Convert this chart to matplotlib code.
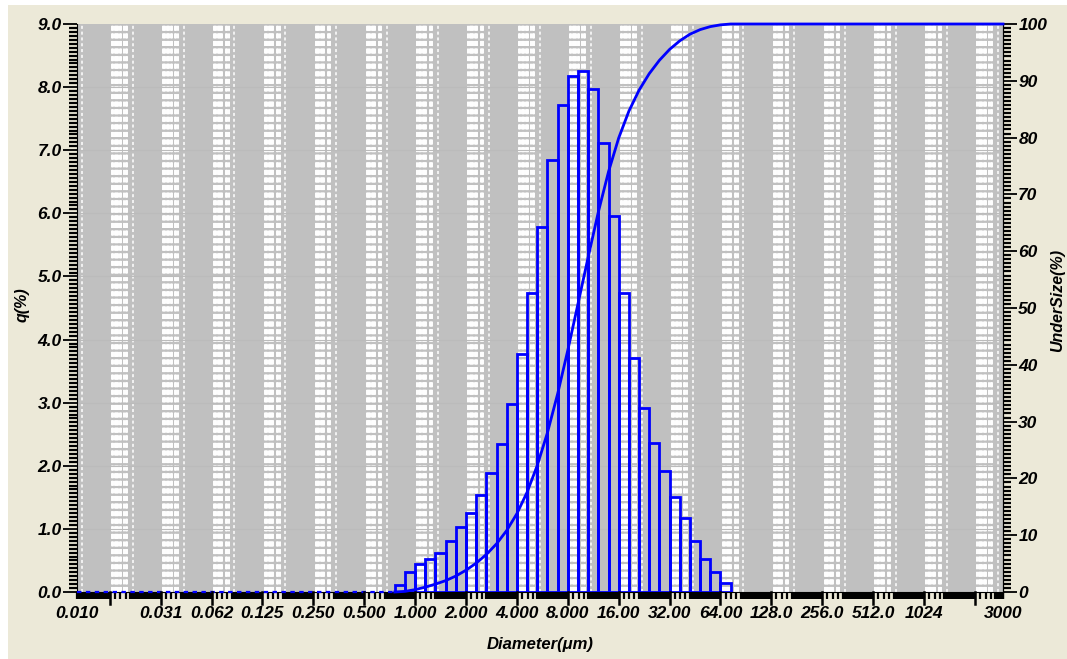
import numpy as np
import matplotlib
matplotlib.use("Agg")
import matplotlib.pyplot as plt
from matplotlib.ticker import FixedLocator, FixedFormatter, NullFormatter
from matplotlib.patches import Rectangle

# ---------------- data ----------------
# bin edges (um), 5 bins per octave
bin_edges = [0.7579, 0.8706, 1.000, 1.1487, 1.3195, 1.5157, 1.7411, 2.000,
             2.2974, 2.6390, 3.0314, 3.4822, 4.000, 4.5948, 5.2780, 6.0629,
             6.9644, 8.000, 9.1896, 10.556, 12.126, 13.929, 16.00, 18.379,
             21.112, 24.251, 27.858, 32.00, 36.758, 42.224, 48.503, 55.715,
             64.00, 73.517]
# frequency q(%) per bin
q_values = [0.11, 0.31, 0.44, 0.53, 0.62, 0.81, 1.03, 1.25, 1.53, 1.88,
            2.35, 2.98, 3.77, 4.73, 5.79, 6.84, 7.71, 8.18, 8.25, 7.97,
            7.11, 5.95, 4.73, 3.70, 2.92, 2.36, 1.92, 1.51, 1.17, 0.81,
            0.53, 0.31, 0.15]

x_tick_values = [0.01, 0.03125, 0.0625, 0.125, 0.25, 0.5, 1, 2, 4, 8, 16, 32,
                 64, 128, 256, 512, 1024, 3000]
x_tick_labels = ["0.010", "0.031", "0.062", "0.125", "0.250", "0.500",
                 "1.000", "2.000", "4.000", "8.000", "16.00", "32.00",
                 "64.00", "128.0", "256.0", "512.0", "1024", "3000"]
x_long_ticks = [2.0 ** k for k in range(-6, 12)]
y_left_labels = ["0.0", "1.0", "2.0", "3.0", "4.0", "5.0", "6.0", "7.0", "8.0", "9.0"]
y_right_labels = ["0", "10", "20", "30", "40", "50", "60", "70", "80", "90", "100"]

# cumulative undersize from the histogram
edges = np.array(bin_edges)
q = np.array(q_values)
cum = np.concatenate([[0.0], np.cumsum(q)])
cum = cum / cum[-1] * 100.0

# ---------------- style ----------------
plt.rcParams['font.family'] = ['Liberation Sans', 'DejaVu Sans']
plt.rcParams['font.weight'] = 'bold'
plt.rcParams['font.style'] = 'italic'

W, H = 1067, 659
fig = plt.figure(figsize=(W / 100, H / 100), dpi=100)
fig.patch.set_facecolor('white')
bg = Rectangle((8 / W, 0), 1 - 8 / W, (H - 5) / H,
               transform=fig.transFigure, facecolor='#ECE9D8',
               edgecolor='none', zorder=-10)
fig.patches.append(bg)

L, R, T, B = 77, 1003, 24, 592
ax = fig.add_axes([L / W, (H - B) / H, (R - L) / W, (B - T) / H])
ax.set_facecolor('#C0C0C0')
ax.set_xscale('log', base=2)
xmin, xmax = 0.01, 3000
ax.set_xlim(xmin, xmax)
ax.set_ylim(0, 9)

# background white dashed vertical grid clusters
band_offsets = [0.045, 0.07, 0.095, 0.12, 0.145, 0.17, 0.195, 0.215]
line_offsets = [0.285, 0.31, 0.335]
thin_offsets = [0.45]
for k in range(-8, 12):
    for f in band_offsets + line_offsets:
        xv = 2.0 ** (k + f)
        if xmin < xv < xmax:
            ax.axvline(xv, color='white', lw=1.4, ls=(0, (2.6, 1.3)), zorder=0.5)
    for f in thin_offsets:
        xv = 2.0 ** (k + f)
        if xmin < xv < xmax:
            ax.axvline(xv, color='white', lw=1.1, ls=(0, (2.0, 1.8)), zorder=0.5)
for yv in range(1, 9):
    ax.axhline(yv, color='#BBBBBB', lw=0.8, zorder=0.6)

# histogram (unfilled bars)
ax.bar(edges[:-1], q, width=np.diff(edges), align='edge', fill=False,
       edgecolor='#0000FF', linewidth=2.0, zorder=3)
# zero baseline before first bin
ax.plot([xmin, edges[0]], [0, 0], color='#0000FF', lw=1.6,
        ls=(0, (2, 2)), zorder=3, clip_on=False)

# axis ticks
ax.xaxis.set_major_locator(FixedLocator(x_tick_values))
ax.xaxis.set_major_formatter(FixedFormatter(x_tick_labels))
minor_x = []
dense = list(np.arange(0.40, 0.985, 0.03))
for k in range(-7, 12):
    for f in [0.10, 0.21, 0.31] + dense:
        xv = 2.0 ** (k + f)
        if xmin < xv < xmax:
            minor_x.append(xv)
ax.xaxis.set_minor_locator(FixedLocator(minor_x + x_long_ticks))
ax.xaxis.set_minor_formatter(NullFormatter())
ax.tick_params(axis='x', which='minor', direction='out', length=5, width=1.6,
               color='black')
ax.tick_params(axis='x', which='major', direction='out', length=5, width=1.6,
               pad=5, labelsize=12.5)
# long ticks at powers of 2
for xv in x_long_ticks:
    ax.plot([xv, xv], [0, -0.19], color='black', lw=1.8, clip_on=False, zorder=5)

ax.yaxis.set_major_locator(FixedLocator(range(0, 10)))
ax.yaxis.set_major_formatter(FixedFormatter(y_left_labels))
ax.yaxis.set_minor_locator(FixedLocator(np.linspace(0, 9, 145)))
ax.tick_params(axis='y', which='major', direction='out', length=10, width=1.3,
               pad=1, labelsize=12.5)
ax.tick_params(axis='y', which='minor', direction='out', length=6, width=1.6)

for s in ['top']:
    ax.spines[s].set_visible(False)
for s in ['left', 'bottom', 'right']:
    ax.spines[s].set_linewidth(0.8)

# right axis: cumulative undersize
ax2 = ax.twinx()
ax2.set_ylim(0, 100)
ax2.plot(list(edges) + [xmax], list(cum) + [100.0], color='#0000FF', lw=2.0,
         zorder=4, clip_on=False)
ax2.set_xlim(xmin, xmax)
ax2.yaxis.set_major_locator(FixedLocator(range(0, 101, 10)))
ax2.yaxis.set_major_formatter(FixedFormatter(y_right_labels))
ax2.yaxis.set_minor_locator(FixedLocator(np.linspace(0, 100, 141)))
ax2.tick_params(axis='y', which='major', direction='out', length=10, width=1.3,
                pad=1, labelsize=12.5)
ax2.tick_params(axis='y', which='minor', direction='out', length=6, width=1.6)
for s in ['top', 'left', 'bottom']:
    ax2.spines[s].set_visible(False)
ax2.spines['right'].set_linewidth(0.8)

# axis titles
fig.text(540 / W, 1 - 645 / H, "Diameter(μm)", ha='center', va='center',
         fontsize=12)
fig.text(22 / W, 1 - 305 / H, "q(%)", ha='center', va='center',
         fontsize=11.5, rotation=90)
fig.text(1058 / W, 1 - 300 / H, "UnderSize(%)", ha='center', va='center',
         fontsize=11.5, rotation=90)

fig.savefig("out.png", dpi=100, facecolor=fig.get_facecolor())
